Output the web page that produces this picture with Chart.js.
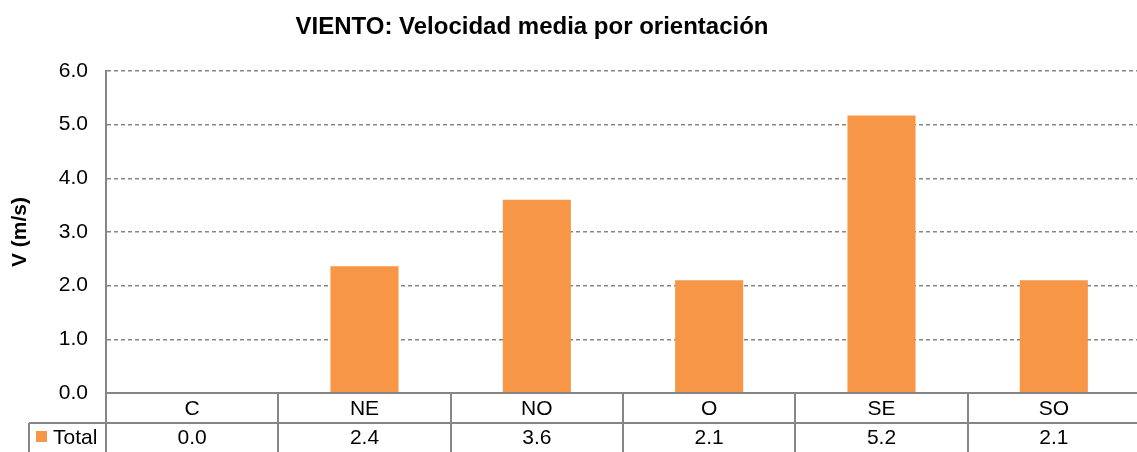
<!DOCTYPE html>
<html>
<head>
<meta charset="utf-8">
<script src="https://cdn.jsdelivr.net/npm/chart.js@4.4.0/dist/chart.umd.min.js"></script>
<style>
  html, body { margin: 0; padding: 0; background: #fff; overflow: hidden; }
  #wrap { width: 1140px; height: 452px; }
</style>
</head>
<body>
<div id="wrap"><canvas id="viento"></canvas></div>
<script>
const categories = ["C", "NE", "NO", "O", "SE", "SO"];
const totalValues = [0.0, 2.36, 3.6, 2.1, 5.17, 2.1];
const yTicks = [0, 1, 2, 3, 4, 5, 6];
const seriesName = "Total";
const chartTitle = "VIENTO: Velocidad media por orientación";
const yTitle = "V (m/s)";

const FONT = "'Liberation Sans', Arial, sans-serif";
const ORANGE = "#F79646";
const LINE = "#868686";

// title + data table under the plot
const tablePlugin = {
    id: "tablePlugin",
    afterDraw(chart){
        const ctx = chart.ctx;
        const area = chart.chartArea;
        const x = chart.scales.x;
        const colW = area.width / categories.length;
        const rowMid = area.bottom + 30;
        const bottom = chart.height;
        const labelLeft = 29;

        ctx.save();
        // title
        ctx.fillStyle = "#000";
        ctx.font = "bold 24px " + FONT;
        ctx.textAlign = "center";
        ctx.textBaseline = "middle";
        ctx.fillText(chartTitle, 532, 27);

        ctx.strokeStyle = LINE;
        ctx.lineWidth = 2;
        ctx.beginPath();
        // axis line / table top
        ctx.moveTo(area.left, area.bottom);
        ctx.lineTo(area.right, area.bottom);
        // row divider
        ctx.moveTo(labelLeft, rowMid);
        ctx.lineTo(area.right, rowMid);
        // verticals
        for(let i = 0; i <= categories.length; i++){
            const px = Math.round(area.left + i * colW);
            ctx.moveTo(px, area.bottom);
            ctx.lineTo(px, bottom);
        }
        ctx.moveTo(labelLeft, rowMid);
        ctx.lineTo(labelLeft, bottom);
        ctx.stroke();

        ctx.font = "21px " + FONT;
        ctx.fillStyle = "#000";
        categories.forEach(function(c, i){
            const cx = x.getPixelForValue(i);
            ctx.fillText(c, cx, (area.bottom + rowMid) / 2 + 1);
            ctx.fillText(totalValues[i].toFixed(1), cx, (rowMid + bottom) / 2 + 1);
        });

        // legend key
        ctx.fillStyle = ORANGE;
        ctx.fillRect(36, 431, 11, 11);
        ctx.fillStyle = "#000";
        ctx.textAlign = "left";
        ctx.fillText(seriesName, 53, (rowMid + bottom) / 2 + 1);
        ctx.restore();
    }
};

const config = {
    type: "bar",
    data: {
        labels: categories,
        datasets: [{
            label: seriesName,
            data: totalValues,
            backgroundColor: ORANGE,
            borderWidth: 0,
            barPercentage: 0.395,
            categoryPercentage: 1.0
        }]
    },
    options: {
        responsive: true,
        maintainAspectRatio: false,
        animation: false,
        layout: {
            padding: { left: 0, right: 0, top: 71, bottom: 59 }
        },
        plugins: {
            legend: { display: false },
            title: { display: false },
            tooltip: { enabled: false }
        },
        scales: {
            x: {
                display: false
            },
            y: {
                min: 0,
                max: 6,
                afterFit: function(scale){
                    scale.width = 106;
                },
                afterBuildTicks: function(scale){
                    scale.ticks = yTicks.map(function(v){ return { value: v }; });
                },
                ticks: {
                    stepSize: 1,
                    padding: 18,
                    color: "#000",
                    font: { family: FONT, size: 21 },
                    callback: function(value){
                        return Number(value).toFixed(1);
                    }
                },
                grid: {
                    color: LINE,
                    lineWidth: 1.5,
                    drawTicks: false
                },
                border: {
                    display: true,
                    color: LINE,
                    width: 2,
                    dash: [4, 3]
                },
                title: {
                    display: true,
                    text: yTitle,
                    color: "#000",
                    font: { family: FONT, size: 21, weight: "bold" },
                    padding: { top: 8, bottom: 0 }
                }
            }
        }
    },
    plugins: [tablePlugin]
};

new Chart(document.getElementById("viento"), config);
</script>
</body>
</html>
